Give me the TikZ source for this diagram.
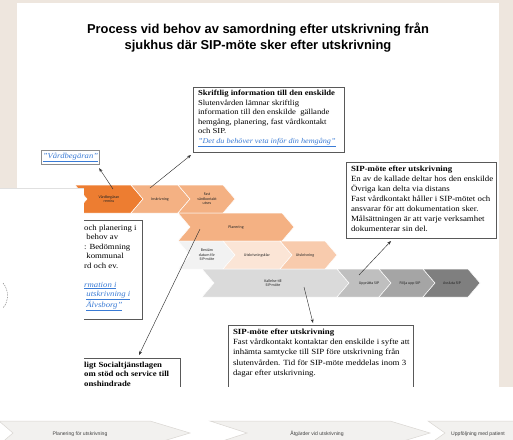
\documentclass[tikz,border=0pt]{standalone}
\usepackage{fontspec}
\setmainfont[FakeStretch=1.12]{Liberation Serif}
\setsansfont{Liberation Sans}
\newfontfamily\chevfont{Carlito}
\usetikzlibrary{arrows.meta,calc}

\definecolor{paper}{HTML}{EEE6DE}
\definecolor{orDark}{HTML}{ED7D31}
\definecolor{orLight}{HTML}{F4B183}
\definecolor{orMid}{HTML}{F8CBAD}
\definecolor{orPale}{HTML}{FBE5D6}
\definecolor{grA}{HTML}{F2F2F2}
\definecolor{grB}{HTML}{DADADA}
\definecolor{grC}{HTML}{BFBFBF}
\definecolor{grD}{HTML}{A5A5A5}
\definecolor{grE}{HTML}{7F7F7F}
\definecolor{linkblue}{HTML}{3A7BD5}
\definecolor{stripfill}{HTML}{F2F1EF}
\definecolor{stripline}{HTML}{D9D6D2}

\tikzset{
  textbox/.style={draw=black!65, line width=0.7pt, fill=white, anchor=north west,
    inner xsep=5pt, inner ysep=2pt, outer sep=0pt},
  lbl/.style={font=\chevfont\fontsize{4}{4.6}\selectfont, text=black!85, align=center, inner sep=0pt},
  striplbl/.style={font=\sffamily\fontsize{5.1}{5.5}\selectfont, text=black!75, inner sep=0pt},
  pointer/.style={draw=black!80, line width=0.45pt, -{Stealth[length=4pt,width=3pt]}},
  chev/.style={draw=white, line width=0.5pt},
  stripchev/.style={draw=stripline, line width=0.5pt, fill=stripfill},
}

% chevron: fill, left x, right x (top corners), top y, height, depth
\newcommand\chevshape[6]{%
  \path[chev,fill=#1] (#2,#4) -- (#3,#4) -- ({#3+#6},{#4+#5/2}) -- (#3,{#4+#5})
    -- (#2,{#4+#5}) -- ({#2+#6},{#4+#5/2}) -- cycle;}
\newcommand\linktext[1]{\textcolor{linkblue}{\itshape\underline{#1}}}
% fixed-size text block: height, width, lines (no wrapping)
\newcommand\boxlines[3]{\parbox[c][#1][t]{#2}{\begin{tabular}{@{}l@{}}#3\end{tabular}}}

\begin{document}
\begin{tikzpicture}[x=1pt,y=-1pt]
\useasboundingbox (0,0) rectangle (513,439);
\clip (0,0) rectangle (513,439);

% background and page
\fill[paper] (0,0) rectangle (513,439);
\fill[white] (17,3) rectangle (499,387);

% title
\node[font=\sffamily\bfseries\fontsize{12.9}{16}\selectfont, align=center] (title) at (258,37.5)
  {Process vid behov av samordning efter utskrivning från\\sjukhus där SIP-möte sker efter utskrivning};

% process chevrons, row 1
\chevshape{orDark}{75}{131}{185}{28}{12}
\node[lbl] (c11) at (109,199) {Vårdbegäran\\remiss};
\chevshape{orLight}{131}{178}{185}{28}{12}
\node[lbl] (c12) at (160,199) {Inskrivning};
\chevshape{orLight}{178}{223}{185}{28}{12}
\node[lbl] (c13) at (207,199) {Fast\\vårdkontakt\\utses};
% row 2
\chevshape{orLight}{178}{282}{213}{28}{12}
\node[lbl] (c21) at (236,227) {Planering};
% row 3
\chevshape{grA}{178}{223}{241}{28}{12}
\node[lbl] (c31) at (207,255) {Bestäm\\datum för\\SIP-möte};
\chevshape{orPale}{223}{280}{241}{28}{12}
\node[lbl] (c32) at (257,255) {Utskrivningsklar};
\chevshape{orMid}{280}{325}{241}{28}{12}
\node[lbl] (c33) at (305,255) {Utskrivning};
% row 4
\chevshape{grB}{202}{337}{269}{28}{12}
\node[lbl] (c41) at (273,283) {Kallelse till\\SIP-möte};
\chevshape{grC}{337}{379}{269}{28}{12}
\node[lbl] (c42) at (369,283) {Upprätta SIP};
\chevshape{grD}{379}{423}{269}{28}{12}
\node[lbl] (c43) at (410,283) {Följa upp SIP};
\chevshape{grE}{423}{468}{269}{28}{12}
\node[lbl] (c44) at (452,283) {Avsluta SIP};

% text boxes
\node[draw=black!45, line width=1.3pt, fill=white, minimum width=58pt, minimum height=14pt,
  inner sep=0pt, font=\fontsize{7.7}{8}\selectfont] (vb) at (70.5,157.5) {\linktext{”Vårdbegäran”}};

\node[textbox, font=\fontsize{7.7}{9.5}\selectfont] (b1) at (193,87) {\boxlines{61pt}{141pt}{%
  \textbf{Skriftlig information till den enskilde}\\
  Slutenvården lämnar skriftlig\\
  information till den enskilde\ \ gällande\\
  hemgång, planering, fast vårdkontakt\\
  och SIP.\\
  {\fontsize{7.3}{9.5}\selectfont\linktext{”Det du behöver veta inför din hemgång”}}}};

\node[textbox, font=\fontsize{7.9}{10.1}\selectfont] (b2) at (346,162) {\boxlines{72pt}{140pt}{%
  \textbf{SIP-möte efter utskrivning}\\
  En av de kallade deltar hos den enskilde\\
  Övriga kan delta via distans\\
  Fast vårdkontakt håller i SIP-mötet och\\
  ansvarar för att dokumentation sker.\\
  Målsättningen är att varje verksamhet\\
  dokumenterar sin del.}};

\node[textbox, font=\fontsize{7.9}{10.3}\selectfont] (b3) at (228,325) {\boxlines{70pt}{175pt}{%
  \textbf{SIP-möte efter utskrivning}\\
  Fast vårdkontakt kontaktar den enskilde i syfte att\\
  inhämta samtycke till SIP före utskrivning från\\
  slutenvården. Tid för SIP-möte meddelas inom 3\\
  dagar efter utskrivning.}};

\node[textbox, inner sep=0pt, minimum width=122pt, minimum height=99pt] (b4) at (20,220) {};
\node[anchor=north west, inner sep=0pt, align=left, font=\fontsize{7.8}{9.5}\selectfont] (b4t) at (84,224.5) {%
  och planering i\\
  \ behov av\\
  : Bedömning\\
  \ kommunal\\
  rd och ev.\\[9.5pt]
  \linktext{rmation i}\\
  \ \linktext{utskrivning i}\\
  \ \linktext{Älvsborg”}};

\node[textbox, inner sep=0pt, minimum width=160pt, minimum height=50pt] (b5) at (20,358) {};
\node[anchor=north west, inner sep=0pt, align=left, font=\bfseries\fontsize{7.8}{9.6}\selectfont] (b5t) at (84,361.5) {%
  ligt Socialtjänstlagen\\
  om stöd och service till\\
  onshindrade};

% pointers from the process steps to the text boxes
\coordinate (p1) at (113,189);
\coordinate (p2) at (150,188);
\coordinate (p3) at (200,229);
\coordinate (p4) at (359,275);
\coordinate (p5) at (304,287);
\draw[pointer] (p1) -- ($(vb.south east)+(-1,3)$);
\draw[pointer] (p2) -- ($(b1.south west)+(-2,3)$);
\draw[pointer] (p3) -- ($(b5.north east)+(-41,-3)$);
\draw[pointer] (p4) -- ($(b2.south west)+(45,3)$);
\draw[pointer] (p5) -- ($(b3.north west)+(85,-2)$);

% side panel
\fill[white] (0,188) rectangle (84,387);
\draw[black!12, line width=0.4pt] (0,188.3) -- (84,188.3);
\draw[black!55, line width=0.4pt, dash pattern=on 1.5pt off 1pt] (3,283) .. controls (9,290) and (9,301) .. (3,308);

% bottom strip
\fill[white] (0,387) rectangle (513,439);
\path[stripchev] (-1,421) -- (150,421) -- (190,433) -- (150,445) -- (-1,445) -- (13,433) -- cycle;
\node[striplbl] (s1) at (80,434) {Planering för utskrivning};
\path[stripchev] (210,421) -- (390,421) -- (430,433) -- (390,445) -- (210,445) -- (247,433) -- cycle;
\node[striplbl] (s2) at (317,434) {Åtgärder vid utskrivning};
\path[stripchev] (428,421) -- (520,421) -- (520,445) -- (428,445) -- (445,433) -- cycle;
\node[striplbl] (s3) at (478,434) {Uppföljning med patient};
\end{tikzpicture}
\end{document}
